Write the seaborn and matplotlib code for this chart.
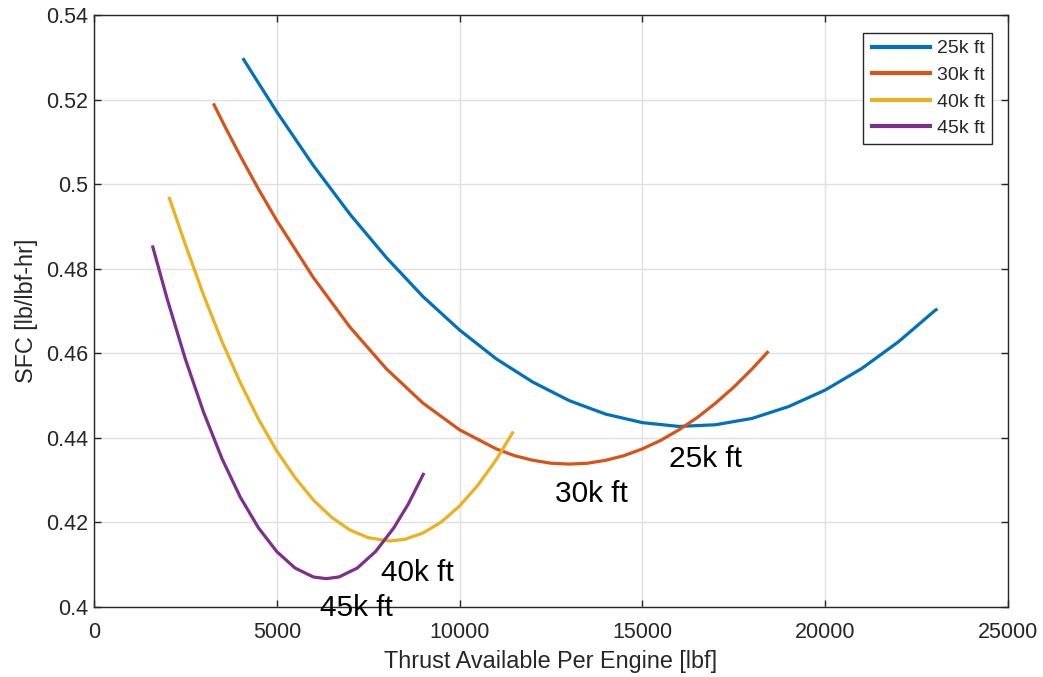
import numpy as np
import pandas as pd
import matplotlib
matplotlib.use("Agg")
import matplotlib.pyplot as plt
import seaborn as sns

# ---- data ----
x_25k = [4070, 4500, 5000, 6000, 7000, 8000, 9000, 10000, 11000, 12000, 13000, 14000,
         15000, 16000, 17000, 18000, 19000, 20000, 21000, 22000, 23000, 23070]
y_25k = [0.5298, 0.5239, 0.5171, 0.5044, 0.4929, 0.4826, 0.4734, 0.4655, 0.4587, 0.4532,
         0.4488, 0.4456, 0.4436, 0.4427, 0.4431, 0.4446, 0.4474, 0.4513, 0.4564, 0.4627,
         0.4701, 0.4705]

x_30k = [3265, 3600, 4000, 4500, 5000, 6000, 7000, 8000, 9000, 10000, 11000, 11500,
         12000, 12500, 13000, 13500, 14000, 14500, 15000, 15500, 16000, 16500, 17000,
         17500, 18000, 18450]
y_30k = [0.5191, 0.5133, 0.5067, 0.4988, 0.4914, 0.4779, 0.4662, 0.4563, 0.4482, 0.4419,
         0.4374, 0.4358, 0.4347, 0.4340, 0.4338, 0.4340, 0.4347, 0.4358, 0.4374, 0.4394,
         0.4419, 0.4448, 0.4482, 0.4520, 0.4563, 0.4605]

x_40k = [2049, 2500, 3000, 3500, 4000, 4500, 5000, 5500, 6000, 6500, 7000, 7500, 8080,
         8500, 9000, 9500, 10000, 10500, 11000, 11470]
y_40k = [0.4970, 0.4857, 0.4737, 0.4628, 0.4531, 0.4444, 0.4369, 0.4306, 0.4253, 0.4212,
         0.4182, 0.4164, 0.4156, 0.4160, 0.4175, 0.4201, 0.4239, 0.4288, 0.4348, 0.4415]

x_45k = [1597, 2000, 2500, 3000, 3500, 4000, 4500, 5000, 5500, 6000, 6350, 6700, 7200,
         7700, 8200, 8600, 9025]
y_45k = [0.4855, 0.4729, 0.4586, 0.4460, 0.4351, 0.4260, 0.4187, 0.4131, 0.4092, 0.4071,
         0.4067, 0.4071, 0.4092, 0.4131, 0.4187, 0.4244, 0.4317]

series_names = ["25k ft", "30k ft", "40k ft", "45k ft"]
colors = ["#0072BD", "#D95319", "#EDB120", "#7E2F8E"]

x_ticks = [0, 5000, 10000, 15000, 20000, 25000]
y_ticks = [0.40, 0.42, 0.44, 0.46, 0.48, 0.50, 0.52, 0.54]

label_pos_x = [15738, 12596, 7842, 6175]
label_pos_y = [0.4350, 0.4268, 0.4080, 0.3998]

# ---- build a tidy table ----
frames = []
for name, xs, ys in zip(series_names,
                        [x_25k, x_30k, x_40k, x_45k],
                        [y_25k, y_30k, y_40k, y_45k]):
    frames.append(pd.DataFrame({"thrust": xs, "sfc": ys, "alt": name}))
df = pd.concat(frames, ignore_index=True)

sns.set_style("whitegrid")
plt.rcParams["font.family"] = ["Liberation Sans", "DejaVu Sans"]

fig = plt.figure(figsize=(10.43, 6.77), dpi=100)
ax = fig.add_axes([94 / 1043, 1 - 607 / 677, 914 / 1043, 592 / 677])

sns.lineplot(data=df, x="thrust", y="sfc", hue="alt", hue_order=series_names,
             palette=colors, sort=False, estimator=None, linewidth=2.3, ax=ax)
for ln in ax.get_lines():
    ln.set_solid_joinstyle("round")
    ln.set_solid_capstyle("butt")

ax.set_xlim(0, 25000)
ax.set_ylim(0.40, 0.54)
ax.set_xticks(x_ticks)
ax.set_yticks(y_ticks)
ax.set_xticklabels([f"{v:g}" for v in x_ticks])
ax.set_yticklabels([f"{v:g}" for v in y_ticks])

ax.grid(True, color="#e0e0e0", linewidth=1.0)
for sp in ax.spines.values():
    sp.set_visible(True)
    sp.set_color("#262626")
    sp.set_linewidth(1.0)
ax.tick_params(axis="both", which="both", direction="in", length=5, width=1.0,
               color="#262626", labelcolor="#262626", labelsize=15.5,
               top=True, right=True, bottom=True, left=True)
ax.tick_params(axis="x", pad=11)
ax.tick_params(axis="y", pad=4)

ax.set_xlabel("Thrust Available Per Engine [lbf]", fontsize=16.8, color="#262626", labelpad=5)
ax.set_ylabel("SFC [lb/lbf-hr]", fontsize=16.8, color="#262626", labelpad=6)

for name, lx, ly in zip(series_names, label_pos_x, label_pos_y):
    ax.text(lx, ly, name, fontsize=21.5, color="black", ha="left", va="center")

leg = ax.legend(loc="upper right", bbox_to_anchor=(0.9825, 0.9696), fontsize=14,
                frameon=True, fancybox=False, edgecolor="#262626", framealpha=1,
                handlelength=3.2, handletextpad=0.25, labelspacing=0.46,
                borderpad=0.35, borderaxespad=0.0, title=None)
leg.get_frame().set_linewidth(1.0)
for line in leg.get_lines():
    line.set_linewidth(3.0)

fig.savefig("out.png", dpi=100)
